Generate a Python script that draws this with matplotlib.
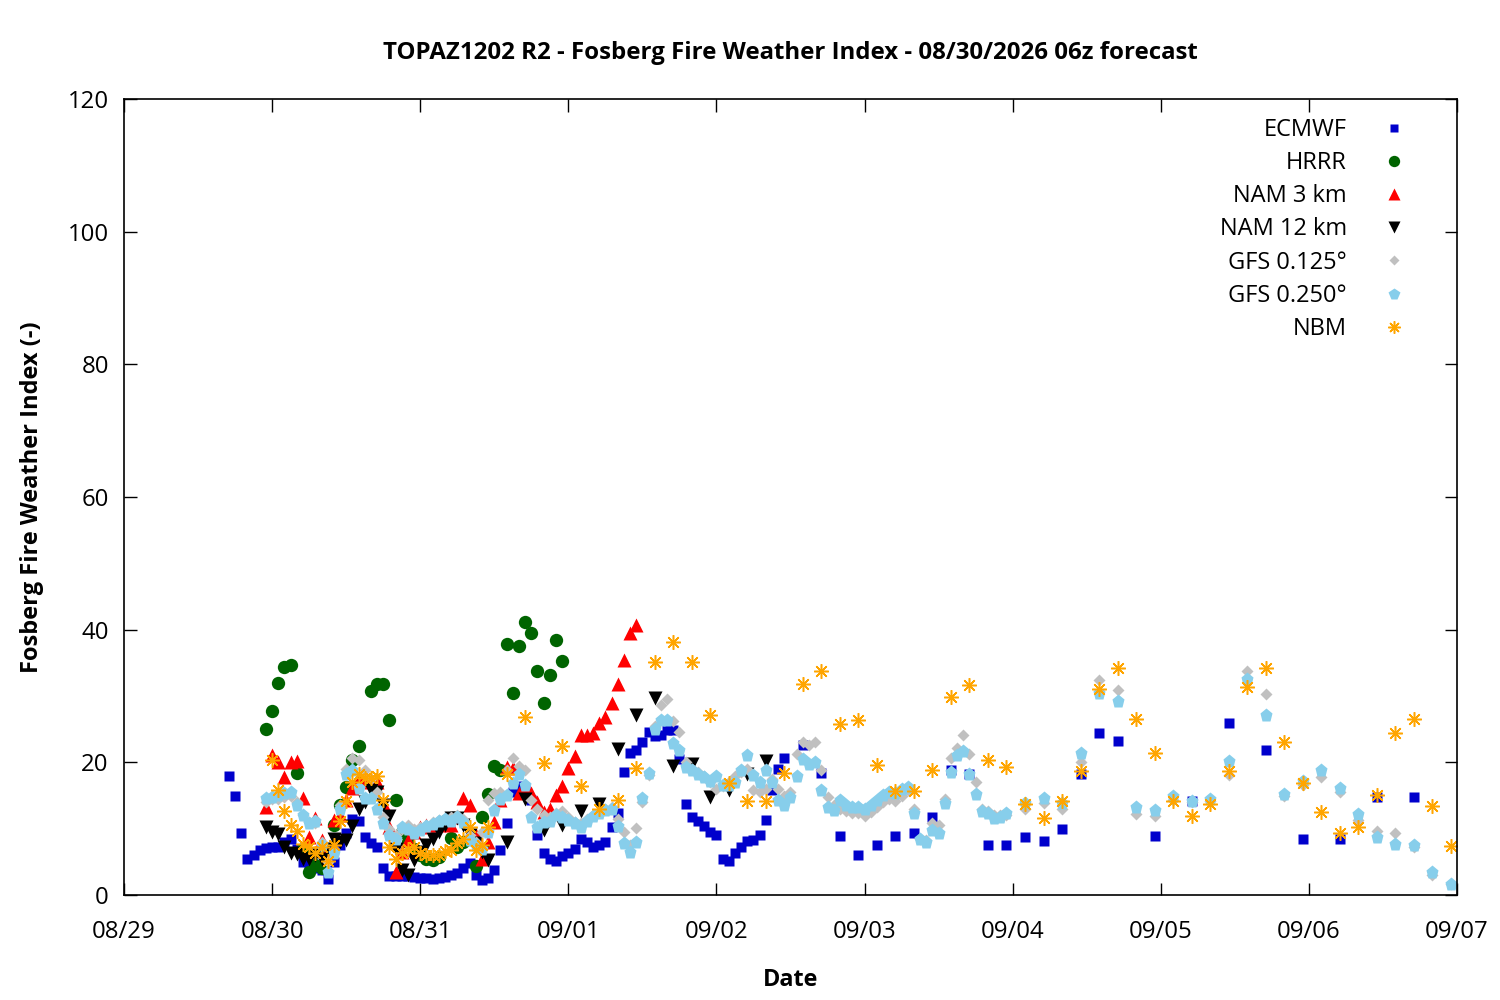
import numpy as np
import matplotlib
matplotlib.use("Agg")
import matplotlib.pyplot as plt

plt.rcParams['font.family'] = ['Open Sans', 'Noto Sans', 'DejaVu Sans']

# times are hours after 08/29 00:00 (local)
ecmwf_t = list(range(17, 108)) + list(range(110, 162, 3)) + list(range(167, 210, 6))
ecmwf_v = [17.9, 14.9, 9.3, 5.5, 6.0, 6.8, 7.1, 7.3, 7.3, 8.0, 8.5, 7.0, 5.0, 4.0, 4.0, 3.8,
           2.4, 5.0, 7.5, 9.3, 11.4, 11.1, 8.8, 7.8, 7.3, 4.0, 2.8, 2.9, 2.8, 2.8, 2.7, 2.6,
           2.5, 2.4, 2.6, 2.7, 3.0, 3.3, 4.0, 4.8, 3.0, 2.3, 2.5, 3.8, 6.8, 10.9, 15.5, 16.5,
           16.0, 14.3, 9.0, 6.3, 5.4, 5.1, 5.9, 6.4, 7.0, 8.4, 8.0, 7.3, 7.6, 8.0, 10.2, 12.3,
           18.5, 21.4, 21.9, 23.1, 24.6, 24.0, 24.1, 24.9, 24.8, 20.5, 13.7, 11.8, 11.1, 10.4,
           9.5, 9.0, 5.4, 5.1, 6.3, 7.3, 8.2, 8.3, 9.0, 11.3, 15.8, 19.0, 20.6,
           22.6, 18.4, 8.9, 6.0, 7.5, 8.9, 9.4, 11.7, 18.9, 18.2, 7.5, 7.5, 8.8, 8.1, 10.0,
           18.2, 24.4, 23.2,
           8.9, 14.1, 25.9, 21.9, 8.5, 8.4, 14.8, 14.8]

hrrr_t = list(range(23, 39)) + list(range(40, 72))
hrrr_v = [25.1, 27.7, 31.9, 34.4, 34.6, 18.4, 7.0, 3.5, 4.5, 4.0, 7.0, 10.6, 13.5, 16.3,
          20.4, 22.5, 30.8, 31.8, 31.8, 26.4, 14.3, 9.5, 8.0, 7.0, 6.0, 5.5, 5.3, 5.8,
          11.1, 8.6, 7.3, 8.0, 8.4, 4.4, 11.8, 15.2, 19.4, 18.8, 37.9, 30.5, 37.5, 41.1,
          39.5, 33.8, 28.9, 33.2, 38.5, 35.3]

nam3_t = list(range(23, 84))
nam3_v = [13.3, 21.1, 20.1, 17.8, 20.1, 20.2, 14.6, 8.7, 11.6, 8.3, 7.0, 11.3, 12.0, 14.3,
          16.1, 17.5, 17.3, 17.0, 17.1, 13.9, 10.3, 3.5, 6.5, 8.3, 9.5, 10.3, 10.5, 10.6,
          10.5, 10.8, 10.5, 11.8, 14.6, 13.6, 9.0, 5.5, 8.0, 11.0, 14.3, 19.3, 19.1, 15.4,
          16.0, 15.4, 14.0, 12.5, 12.9, 15.1, 16.4, 19.1, 20.9, 24.1, 24.1, 24.4, 25.9,
          26.9, 28.9, 31.8, 35.4, 39.5, 40.7]

nam12_t = list(range(23, 60)) + list(range(62, 105, 3))
nam12_v = [10.3, 9.5, 9.2, 7.2, 6.3, 6.2, 5.4, 5.5, 6.0, 5.5, 7.0, 8.5, 8.0, 8.3, 10.4,
           12.9, 14.0, 15.8, 15.5, 13.5, 11.9, 7.0, 3.8, 3.0, 5.3, 6.5, 7.5, 8.5, 9.5, 10.5,
           11.6, 11.6, 10.5, 9.0, 7.8, 6.5, 5.3,
           8.0, 14.5, 9.8, 10.6, 12.6, 13.7, 22.0, 27.2, 29.7, 19.5, 19.7, 14.7, 15.8, 18.3,
           20.2]

gfs_t = list(range(23, 144)) + list(range(146, 216, 3))
gfs125_v = [14.0, 14.5, 14.5, 14.7, 15.0, 14.0, 12.0, 11.0, 10.8, 8.0, 5.0, 7.0, 13.5, 19.0,
            20.6, 20.4, 18.8, 17.5, 15.5, 11.8, 10.0, 9.0, 10.0, 10.6, 10.0, 10.2, 10.5,
            11.0, 11.3, 11.5, 11.8, 12.0, 11.5, 9.0, 8.0, 9.5, 14.3, 15.4, 15.6, 18.9, 20.7,
            19.5, 18.8, 14.3, 12.9, 12.0, 11.8, 12.3, 12.6, 11.8, 11.0, 10.8, 11.5, 12.0,
            12.5, 13.0, 13.3, 11.5, 9.5, 7.5, 10.1, 14.0, 18.1, 25.5, 28.6, 29.5, 26.3, 24.5,
            20.0, 19.0, 18.5, 18.0, 17.0, 16.0, 16.5, 17.0, 18.0, 18.5, 19.0, 15.8, 15.5,
            16.0, 17.5, 16.0, 15.0, 15.6, 21.3, 23.1, 22.6, 23.0, 18.9, 14.8, 13.5, 13.0,
            12.6, 12.4, 12.3, 11.9, 12.5, 13.2, 14.0, 14.5, 14.1, 15.0, 15.8, 13.0, 8.5, 8.3,
            10.8, 10.6, 14.5, 20.6, 22.2, 24.1, 21.3, 17.1, 13.0, 12.6, 12.0, 12.0, 12.0,
            12.9, 13.9, 12.9, 20.1, 32.4, 30.9, 12.2, 11.9, 14.3, 14.0, 14.2, 18.1, 33.8,
            30.3, 15.0, 16.6, 17.8, 15.6, 11.3, 9.7, 9.4, 7.2, 3.0, 1.6]
gfs250_v = [14.6, 14.8, 15.1, 15.4, 15.5, 13.6, 12.1, 10.9, 11.1, 7.5, 3.5, 6.3, 12.9, 18.3,
            18.9, 16.1, 14.6, 14.6, 12.9, 10.8, 9.0, 8.4, 10.2, 9.9, 9.3, 9.8, 10.4, 10.7,
            11.2, 11.4, 11.2, 11.7, 11.0, 8.3, 7.5, 7.0, 9.5, 12.8, 14.5, 15.1, 16.9, 18.3,
            16.6, 11.8, 10.2, 11.0, 11.2, 12.1, 11.8, 11.3, 10.8, 10.3, 11.2, 11.9, 12.3,
            12.8, 13.0, 10.4, 7.8, 6.5, 8.0, 14.6, 18.4, 25.1, 26.4, 26.4, 22.9, 21.8, 19.3,
            18.8, 18.3, 17.8, 17.2, 17.9, 16.6, 16.6, 17.1, 18.9, 21.1, 18.1, 17.1, 18.9,
            17.1, 14.3, 13.6, 14.8, 18.0, 20.5, 19.8, 20.0, 15.9, 13.3, 12.8, 14.3, 13.6,
            13.3, 13.2, 12.9, 13.6, 14.3, 15.1, 15.6, 15.4, 16.0, 16.3, 12.4, 8.5, 8.0, 9.8,
            9.3, 13.8, 18.6, 21.1, 21.7, 18.2, 15.2, 12.6, 12.4, 11.6, 11.8, 12.4,
            13.8, 14.6, 13.8, 21.4, 30.4, 29.2, 13.3, 12.8, 14.9, 14.1, 14.4, 20.2, 32.5,
            27.1, 15.2, 17.2, 18.8, 16.1, 12.2, 8.7, 7.7, 7.5, 3.5, 1.7]

nbm_t = list(range(24, 60)) + list(range(62, 216, 3))
nbm_v = [20.4, 15.9, 12.6, 10.6, 9.7, 7.7, 7.2, 6.3, 7.3, 5.2, 7.5, 11.1, 14.1, 17.1, 18.3,
         17.7, 17.7, 17.9, 14.3, 7.3, 5.5, 6.4, 7.0, 7.2, 6.3, 6.1, 6.1, 6.1, 6.6, 6.8, 7.8,
         8.5, 10.3, 6.8, 7.5, 10.3,
         18.3, 26.9, 19.9, 22.5, 16.4, 12.9, 14.3, 19.1, 35.2, 38.2, 35.1, 27.2, 16.9, 14.1,
         14.1, 18.4, 31.8, 33.8, 25.8, 26.4, 19.6, 15.7, 15.7, 18.8, 29.9, 31.7, 20.4, 19.3,
         13.7, 11.6, 14.2, 18.7, 31.0, 34.2, 26.5, 21.4, 14.2, 11.9, 13.7, 18.7, 31.3, 34.2,
         23.0, 16.9, 12.5, 9.4, 10.2, 15.1, 24.4, 26.6, 13.4, 7.4]

day_labels = ['08/29', '08/30', '08/31', '09/01', '09/02', '09/03', '09/04', '09/05', '09/06', '09/07']

fig = plt.figure(figsize=(15, 10), dpi=100)
ax = fig.add_axes([0.0827, 0.105, 0.8886, 0.796])

ax.plot(ecmwf_t, ecmwf_v, ls='none', marker='s', ms=7.4, color='#0000cc', mec='none', label='ECMWF')
ax.plot(hrrr_t, hrrr_v, ls='none', marker='o', ms=9.6, color='#006400', mec='none', label='HRRR')
ax.plot(nam3_t, nam3_v, ls='none', marker='^', ms=10, color='#ff0000', mec='none', label='NAM 3 km')
ax.plot(nam12_t, nam12_v, ls='none', marker='v', ms=10, color='black', mec='none', label='NAM 12 km')
ax.plot(gfs_t, gfs125_v, ls='none', marker='D', ms=6.4, color='#c0c0c0', mec='none', label='GFS 0.125°')
ax.plot(gfs_t, gfs250_v, ls='none', marker='p', ms=9.8, color='#87ceeb', mec='none', label='GFS 0.250°')
ax.plot(nbm_t, nbm_v, ls='none', marker=(8, 2, 0), ms=10.5, color='#ffa500', mew=1.1, label='NBM')

ax.set_xlim(0, 216)
ax.set_ylim(0, 120)
ax.set_xticks(np.arange(0, 217, 24))
ax.set_xticklabels(day_labels)
ax.set_yticks(np.arange(0, 121, 20))
ax.tick_params(direction='in', length=9, width=1, top=True, right=True, labelsize=17.3, pad=11)
ax.tick_params(axis='x', pad=18)
for s in ax.spines.values():
    s.set_linewidth(1.2)

ax.set_title('TOPAZ1202 R2 - Fosberg Fire Weather Index - 08/30/2026 06z forecast',
             fontsize=17.3, fontweight='bold', pad=29)
ax.set_xlabel('Date', fontsize=16.8, fontweight='bold', labelpad=17)
ax.set_ylabel('Fosberg Fire Weather Index (-)', fontsize=17, fontweight='bold', labelpad=17)

ax.legend(loc='upper right', frameon=False, markerfirst=False, fontsize=17,
          markerscale=0.85, handlelength=1.0, handletextpad=1.48, labelspacing=0.39,
          borderaxespad=0.6, bbox_to_anchor=(0.979, 1.006))

fig.savefig('out.png', dpi=100)
